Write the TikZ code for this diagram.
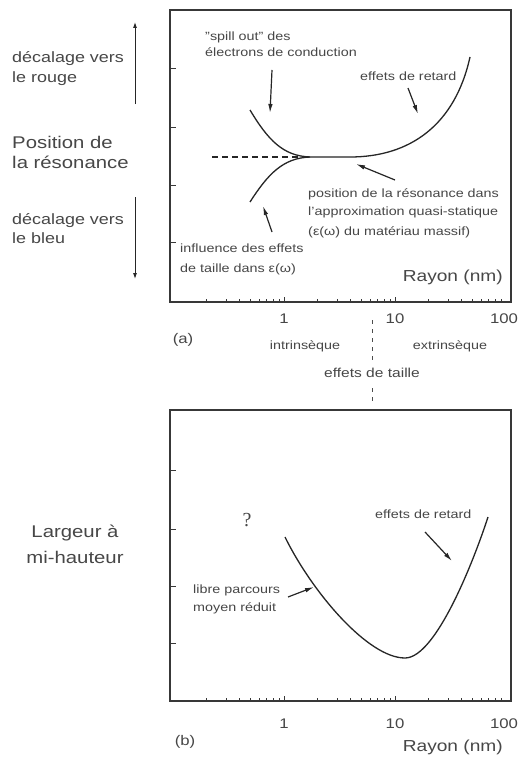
\documentclass[tikz,border=0pt]{standalone}
\usepackage{fontspec}
\setmainfont{Liberation Sans}
\newfontfamily\qfont{Liberation Serif}
\usetikzlibrary{arrows.meta}
\definecolor{ink}{gray}{0.22}
\definecolor{txt}{gray}{0.28}
\tikzset{
  lbl/.style={inner sep=0pt, text=txt, xscale=1.2, font=\fontsize{12}{14}\selectfont},
  lblm/.style={lbl, font=\fontsize{13}{15}\selectfont},
  side/.style={lbl, font=\fontsize{15}{18}\selectfont},
  big/.style={lbl, font=\fontsize{17}{20}\selectfont},
  axl/.style={lbl, font=\fontsize{14}{16}\selectfont},
  ray/.style={lbl, font=\fontsize{16}{18}\selectfont},
  frame/.style={draw=ink, line width=1.6bp},
  curve/.style={draw=black!85, line width=1.3bp},
  arr/.style={draw=black!85, line width=1.2bp, -{Latex[length=9bp,width=4.5bp]}},
  vert/.style={draw=black!85, line width=0.9bp, -{Latex[length=6bp,width=4bp]}},
  tick/.style={draw=ink, line width=0.8bp},
  dsh/.style={draw=black!85, line width=1.3bp, dash pattern=on 6bp off 4bp},
  sep/.style={draw=black!70, line width=1bp, dash pattern=on 4bp off 5bp}
}
\begin{document}
\begin{tikzpicture}[x=1bp,y=-1bp]
\useasboundingbox[fill=white] (0,0) rectangle (522,758);

% ---------- panel (a) ----------
\draw[frame] (170,10) rectangle (511,302);
\foreach \yy in {68,127,185,242} {\draw[tick] (170,\yy) -- (176,\yy);}
\foreach \d in {173,284,395} {
  \foreach \m in {2,...,9} {\draw[tick] ({\d+111*log10(\m)},302) -- ++(0,-3);}
}
\foreach \xx in {284,395} {\draw[tick] (\xx,302) -- ++(0,-5);}

% curves
\coordinate (jn) at (310,157);
\coordinate (fl) at (350,157);
\coordinate (ub) at (250,110);
\coordinate (lb0) at (250,202);
\coordinate (tp) at (470,57);
\coordinate (ds) at (212,157);
\coordinate (de) at (298,157);
\draw[dsh] (ds) -- (de);
\draw[curve] (ub) .. controls (268,140) and (283,156) .. (jn) -- (fl) .. controls (410,157) and (455,125) .. (tp);
\draw[curve] (lb0) .. controls (268,174) and (283,158) .. (jn);

% labels (a)
\node[lbl, anchor=base west] (sp1) at (205,41) {"spill out" des};
\node[lbl, anchor=base west] (sp2) at (205,57) {électrons de conduction};
\node[lbl, anchor=base west] (ret1) at (360,80) {effets de retard};
\node[lbl, anchor=base west] (pos1) at (308,197) {position de la résonance dans};
\node[lbl, anchor=base west] (pos2) at (308,215) {l'approximation quasi-statique};
\node[lbl, anchor=base west] (pos3) at (308,235) {(ε(ω) du matériau massif)};
\node[lbl, anchor=base west] (inf1) at (180,252) {influence des effets};
\node[lbl, anchor=base west] (inf2) at (180,272) {de taille dans ε(ω)};
\node[ray, anchor=base east] (raya) at (503,281) {Rayon (nm)};

\coordinate (spA) at (272,70);   \coordinate (spB) at (270,113);
\coordinate (reA) at (408,88);   \coordinate (reB) at (418,114);
\coordinate (poA) at (395,180);  \coordinate (poB) at (356,164);
\coordinate (inA) at (272,232);  \coordinate (inB) at (263,206);
\draw[arr] (spA) -- (spB);
\draw[arr] (reA) -- (reB);
\draw[arr] (poA) -- (poB);
\draw[arr] (inA) -- (inB);

% x labels (a)
\node[axl, anchor=base] (t1a) at (284,323) {1};
\node[axl, anchor=base] (t10a) at (395,323) {10};
\node[axl, anchor=base] (t100a) at (504,323) {100};
\node[axl] (la) at (183,340) {(a)};

% left side labels
\node[side, anchor=base west] (dr1) at (12,63) {décalage vers};
\node[side, anchor=base west] (dr2) at (12,82) {le rouge};
\node[big, anchor=base west] (ps1) at (12,148) {Position de};
\node[big, anchor=base west] (ps2) at (12,168) {la résonance};
\node[side, anchor=base west] (db1) at (12,224) {décalage vers};
\node[side, anchor=base west] (db2) at (12,243) {le bleu};
\coordinate (vu1) at (135,104); \coordinate (vu2) at (135,22);
\coordinate (vd1) at (135,197); \coordinate (vd2) at (135,279);
\draw[vert] (vu1) -- (vu2);
\draw[vert] (vd1) -- (vd2);

% middle: size effects
\node[lbl, anchor=base] (intr) at (305,349) {intrinsèque};
\node[lbl, anchor=base] (extr) at (450,349) {extrinsèque};
\node[lblm] (eft) at (372,373) {effets de taille};
\coordinate (s1) at (372,320); \coordinate (s2) at (372,360);
\coordinate (s3) at (372,388); \coordinate (s4) at (372,404);
\draw[sep] (s1) -- (s2);
\draw[sep] (s3) -- (s4);

% ---------- panel (b) ----------
\draw[frame] (170,410) rectangle (511,701);
\foreach \yy in {470,529,586,643} {\draw[tick] (170,\yy) -- (176,\yy);}
\foreach \d in {173,284,395} {
  \foreach \m in {2,...,9} {\draw[tick] ({\d+111*log10(\m)},701) -- ++(0,-3);}
}
\foreach \xx in {284,395} {\draw[tick] (\xx,701) -- ++(0,-5);}

\coordinate (bs) at (285,537);
\coordinate (bm) at (405,658);
\coordinate (be) at (488,517);
\draw[curve] (bs) .. controls (312,592) and (368,658) .. (bm) .. controls (436,658) and (474,560) .. (be);

\node[inner sep=0pt, text=txt, font=\qfont\fontsize{20}{22}\selectfont] (qm) at (247,520) {?};
\node[big] (lg1) at (75,533) {Largeur à};
\node[big] (lg2) at (75,557) {mi-hauteur};
\node[lbl, anchor=base west] (ret2) at (375,518) {effets de retard};
\node[lbl, anchor=base west] (lib1) at (193,593) {libre parcours};
\node[lbl, anchor=base west] (lib2) at (193,611) {moyen réduit};
\coordinate (rbA) at (425,532); \coordinate (rbB) at (452,561);
\coordinate (lbA) at (288,597); \coordinate (lbB) at (314,587);
\draw[arr] (rbA) -- (rbB);
\draw[arr] (lbA) -- (lbB);

\node[axl, anchor=base] (t1b) at (284,728) {1};
\node[axl, anchor=base] (t10b) at (395,728) {10};
\node[axl, anchor=base] (t100b) at (504,728) {100};
\node[axl] (lb) at (185,742) {(b)};
\node[ray, anchor=base east] (rayb) at (503,751) {Rayon (nm)};
\end{tikzpicture}
\end{document}
